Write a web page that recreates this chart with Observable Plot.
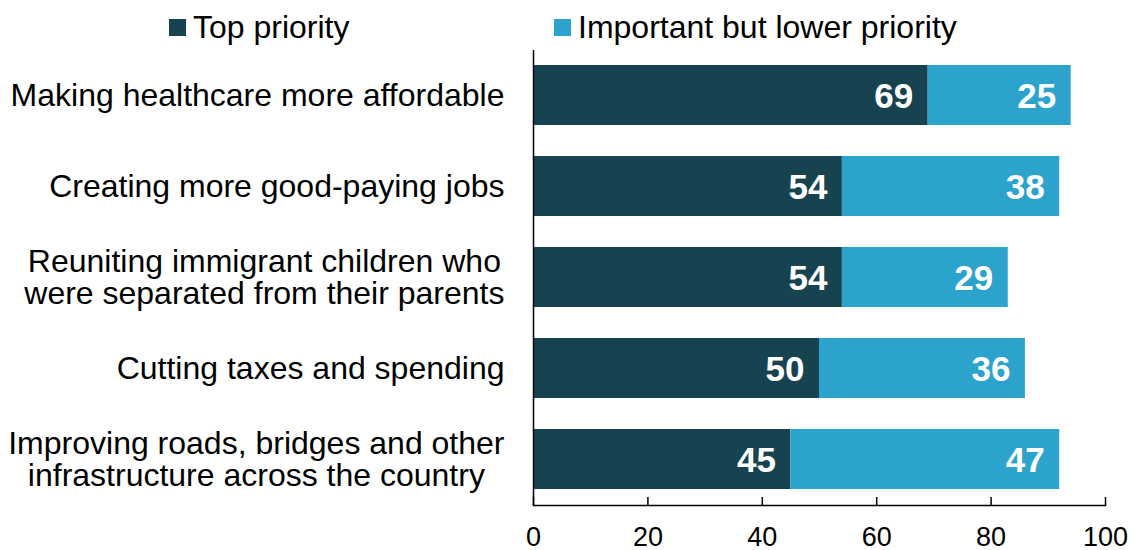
<!DOCTYPE html>
<html>
<head>
<meta charset="utf-8">
<script src="https://cdn.jsdelivr.net/npm/d3@7"></script>
<script src="https://cdn.jsdelivr.net/npm/@observablehq/plot@0.6"></script>
<style>
  html, body { margin: 0; padding: 0; background: #fff; }
  body { width: 1133px; height: 550px; overflow: hidden; font-family: "Liberation Sans", Arial, sans-serif; color: #000; }
  #legend { position: relative; height: 50px; width: 1133px; }
  .item { position: absolute; top: 7px; display: flex; align-items: center; font-size: 32px; line-height: 40px; white-space: nowrap; }
  .sw { width: 17px; height: 17px; margin-right: 7px; }
  #chart svg { display: block; }
</style>
</head>
<body>
<div id="legend"></div>
<div id="chart"></div>
<script>
const categories = [
  "Making healthcare more affordable",
  "Creating more good-paying jobs",
  "Reuniting immigrant children who\nwere separated from their parents",
  "Cutting taxes and spending",
  "Improving roads, bridges and other\ninfrastructure across the country"
];
const seriesNames = ["Top priority", "Important but lower priority"];
const topPriority = [69, 54, 54, 50, 45];
const lowerPriority = [25, 38, 29, 36, 47];
const xTicks = [0, 20, 40, 60, 80, 100];
const colors = ["#16434F", "#2BA3CD"];

const rows = [];
categories.forEach((c, i) => {
  rows.push({cat: c, series: seriesNames[0], value: topPriority[i]});
  rows.push({cat: c, series: seriesNames[1], value: lowerPriority[i]});
});

// legend
const legend = document.getElementById("legend");
const lpos = [169, 554];
seriesNames.forEach((s, i) => {
  const d = document.createElement("div");
  d.className = "item";
  d.style.left = lpos[i] + "px";
  d.innerHTML = `<span class="sw" style="background:${colors[i]}"></span><span>${s}</span>`;
  legend.appendChild(d);
});

const chart = Plot.plot({
  width: 1133,
  height: 500,
  marginLeft: 533,
  marginRight: 28,
  marginTop: 0,
  marginBottom: 45,
  style: {fontFamily: "'Liberation Sans', Arial, sans-serif", color: "#000", background: "#fff"},
  x: {domain: [0, 100]},
  y: {domain: categories, paddingInner: 0.34, paddingOuter: 0.17},
  color: {domain: seriesNames, range: colors},
  marks: [
    Plot.barX(rows, Plot.stackX({x: "value", y: "cat", z: "series", fill: "series", order: null})),
    Plot.text(rows, Plot.stackX2({x: "value", y: "cat", z: "series", order: null, text: d => String(d.value),
      fill: "white", fontWeight: "bold", fontSize: 35, textAnchor: "end", dx: -15, dy: 1})),
    Plot.ruleX([0], {stroke: "#000", strokeWidth: 1.5}),
    Plot.frame({anchor: "bottom", stroke: "#000", strokeWidth: 1.5}),
    Plot.axisX({ticks: xTicks, tickSize: -8, tickPadding: 29, fontSize: 27, label: null, strokeWidth: 1.5}),
    Plot.axisY({tickSize: 0, tickPadding: 29, fontSize: 32, label: null, lineHeight: 1.0})
  ]
});
document.getElementById("chart").appendChild(chart);

// center multi-line category labels within their block (right edge kept)
chart.querySelectorAll("text").forEach(t => {
  const spans = t.querySelectorAll("tspan");
  if (spans.length > 1) {
    let w = 0;
    spans.forEach(s => { w = Math.max(w, s.getComputedTextLength()); });
    t.setAttribute("text-anchor", "middle");
    spans.forEach(s => s.setAttribute("x", -w / 2));
  }
});
</script>
</body>
</html>
